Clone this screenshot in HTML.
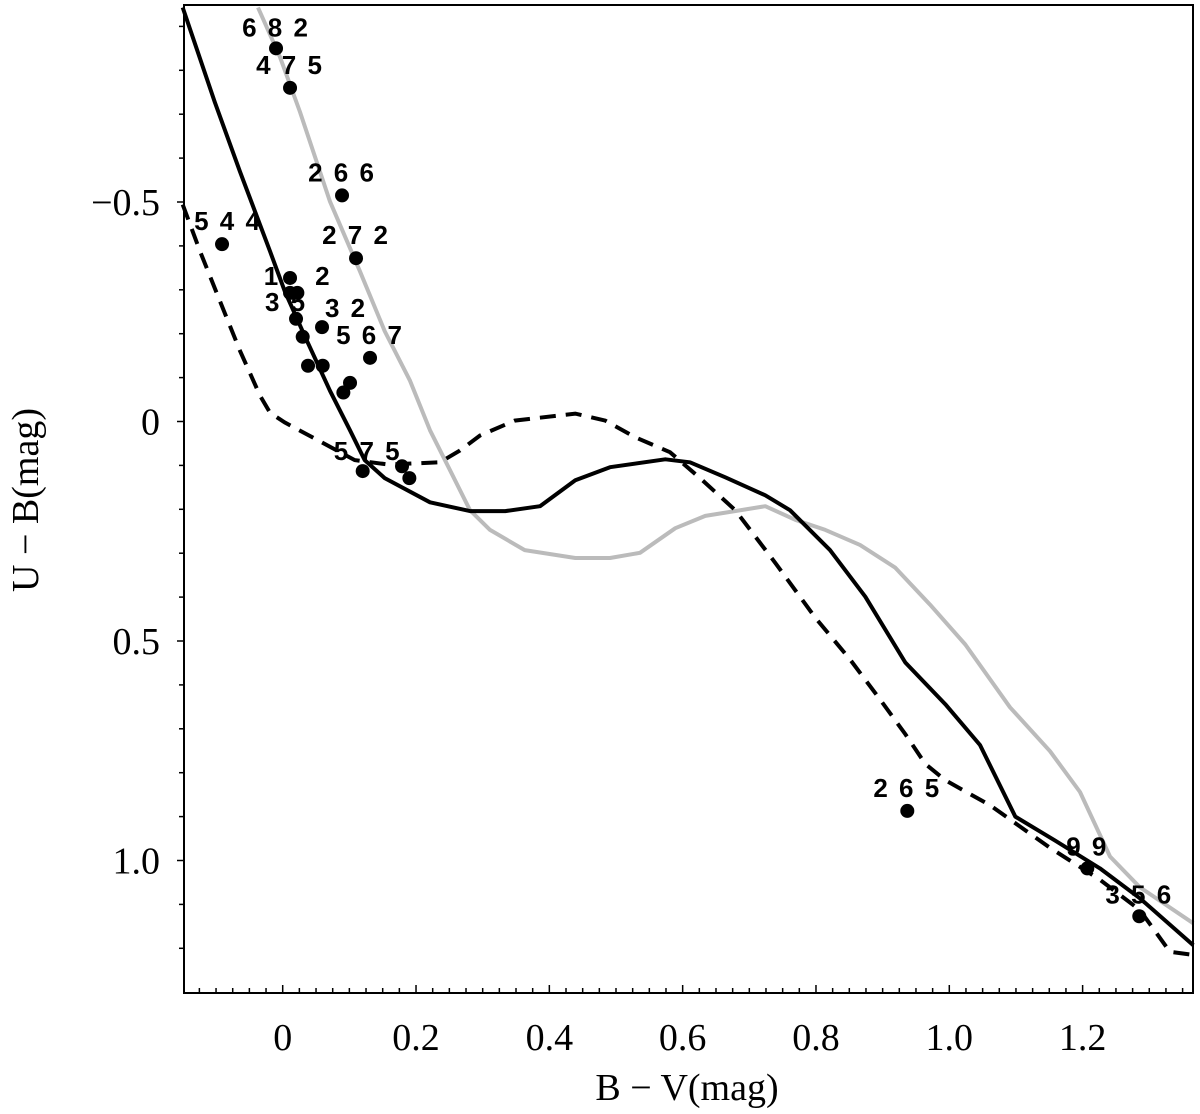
<!DOCTYPE html>
<html><head><meta charset="utf-8"><style>
html,body{margin:0;padding:0;background:#fff;}
svg{display:block;}
.tl{font-family:"Liberation Serif",serif;font-size:38px;fill:#000;}
.lb{font-family:"Liberation Sans",sans-serif;font-weight:bold;font-size:26px;letter-spacing:2px;fill:#000;}
</style></head><body>
<svg id="chart" width="1200" height="1114" viewBox="0 0 1200 1114" xmlns="http://www.w3.org/2000/svg">
<g id="curves"></g>
<g id="points"></g>
<g id="axes"></g>
<text class="tl" x="687" y="1100" text-anchor="middle" font-size="39">B − V(mag)</text>
<text class="tl" transform="translate(38,500) rotate(-90)" text-anchor="middle" font-size="39">U − B(mag)</text>
</svg>
<script>
const xTicks=[0,0.2,0.4,0.6,0.8,1.0,1.2];
const xTickLabels=["0","0.2","0.4","0.6","0.8","1.0","1.2"];
const yTicks=[-0.5,0,0.5,1.0];
const yTickLabels=["−0.5","0","0.5","1.0"];
const solidBV=[-0.150,-0.102,-0.064,-0.019,0.003,0.033,0.071,0.101,0.123,0.153,0.221,0.281,0.334,0.386,0.439,0.491,0.574,0.611,0.664,0.724,0.761,0.821,0.874,0.934,0.994,1.046,1.099,1.159,1.226,1.286,1.366];
const solidUB=[-0.943,-0.728,-0.569,-0.388,-0.297,-0.195,-0.070,0.020,0.088,0.129,0.184,0.204,0.204,0.193,0.134,0.104,0.086,0.093,0.127,0.168,0.202,0.293,0.399,0.549,0.644,0.737,0.900,0.955,1.018,1.086,1.193];
const greyBV=[-0.037,-0.004,0.026,0.071,0.116,0.153,0.191,0.221,0.251,0.281,0.311,0.363,0.439,0.491,0.536,0.589,0.634,0.724,0.769,0.814,0.866,0.919,0.971,1.024,1.091,1.151,1.196,1.241,1.286,1.366];
const greyUB=[-0.943,-0.830,-0.705,-0.501,-0.342,-0.206,-0.093,0.020,0.111,0.202,0.247,0.293,0.311,0.311,0.299,0.243,0.215,0.193,0.224,0.247,0.281,0.333,0.417,0.508,0.651,0.751,0.844,0.991,1.061,1.143];
const dashBV=[-0.150,-0.124,-0.094,-0.064,-0.034,-0.019,0.003,0.108,0.158,0.236,0.266,0.296,0.348,0.439,0.484,0.529,0.581,0.626,0.679,0.739,0.799,0.851,0.896,0.934,0.964,0.994,1.061,1.151,1.226,1.286,1.331,1.366];
const dashUB=[-0.494,-0.388,-0.274,-0.161,-0.059,-0.020,0.002,0.088,0.098,0.093,0.066,0.032,-0.002,-0.018,-0.002,0.036,0.070,0.129,0.202,0.322,0.447,0.542,0.633,0.712,0.780,0.817,0.874,0.971,1.044,1.113,1.208,1.215];
const ptBV=[-0.010,0.011,0.089,-0.091,0.110,0.011,0.011,0.022,0.020,0.059,0.030,0.131,0.038,0.060,0.101,0.091,0.120,0.179,0.190,0.937,1.207,1.285];
const ptUB=[-0.850,-0.760,-0.515,-0.404,-0.372,-0.327,-0.293,-0.293,-0.234,-0.215,-0.193,-0.145,-0.127,-0.127,-0.088,-0.066,0.113,0.102,0.129,0.887,1.018,1.127];
const ptLabels=["6 8 2","4 7 5","2 6 6","5 4 4","2 7 2","","1","2","3 5","3 2","","5 6 7","","","","","5 7 5","","","2 6 5","9 9","3 5 6"];
const labDX=[0,0,0,6,0,0,-18,26,-10,24,0,0,0,0,0,0,5,0,0,0,0,0];
const labDY=[-12,-14,-14,-14,-14,0,-8,-8,-8,-10,0,-14,0,0,0,0,-11,0,0,-14,-13,-13];
const L=184,R=1193,T=5,B=993;
const xs=v=>282.7+666.6*v, ys=u=>421.5+439*u;
const NS="http://www.w3.org/2000/svg";
function mk(t,a,p){const e=document.createElementNS(NS,t);for(const k in a)e.setAttribute(k,a[k]);p.appendChild(e);return e;}
const cg=document.getElementById('curves'),pg=document.getElementById('points'),ag=document.getElementById('axes');
function path(bv,ub){return bv.map((v,i)=>(i?'L':'M')+xs(v).toFixed(1)+' '+ys(ub[i]).toFixed(1)).join(' ');}
let g=mk('path',{d:path(greyBV,greyUB),fill:'none',stroke:'#bbbbbb','stroke-width':4,'stroke-linejoin':'round'},cg);


let s=mk('path',{d:path(solidBV,solidUB),fill:'none',stroke:'#000','stroke-width':4,'stroke-linejoin':'round'},cg);


let d=mk('path',{d:path(dashBV,dashUB),fill:'none',stroke:'#000','stroke-width':4,'stroke-dasharray':'16,10'},cg);


ptBV.forEach((v,i)=>{
 const c=mk('circle',{cx:xs(v),cy:ys(ptUB[i]),r:7,fill:'#000'},pg);
 
 
 if(ptLabels[i]){
  const t=mk('text',{x:xs(v)+labDX[i],y:ys(ptUB[i])+labDY[i],'text-anchor':'middle',class:'lb'},pg);
  t.textContent=ptLabels[i];
  
  
 }
});
const fr=mk('rect',{x:L,y:T,width:R-L,height:B-T,fill:'none',stroke:'#000','stroke-width':2},ag);


for(let k=-6;k<=55;k++){const v=k*0.025;const x=xs(v);if(x<L||x>R)continue;const maj=k%8==0;
 mk('line',{x1:x,x2:x,y1:B,y2:B-(maj?8:5),stroke:'#000','stroke-width':1.5},ag);}
for(let k=-9;k<=12;k++){const u=k*0.1;const y=ys(u);if(y<T||y>B)continue;const maj=k%5==0;
 mk('line',{x1:L,x2:L-(maj?7:5),y1:y,y2:y,stroke:'#000','stroke-width':1.5},ag);}
xTicks.forEach((v,i)=>{const t=mk('text',{x:xs(v),y:1050,'text-anchor':'middle',class:'tl'},ag);t.textContent=xTickLabels[i];
 
 });
yTicks.forEach((u,i)=>{const t=mk('text',{x:160,y:ys(u)+13,'text-anchor':'end',class:'tl'},ag);t.textContent=yTickLabels[i];
 
 });
</script>
</body></html>
